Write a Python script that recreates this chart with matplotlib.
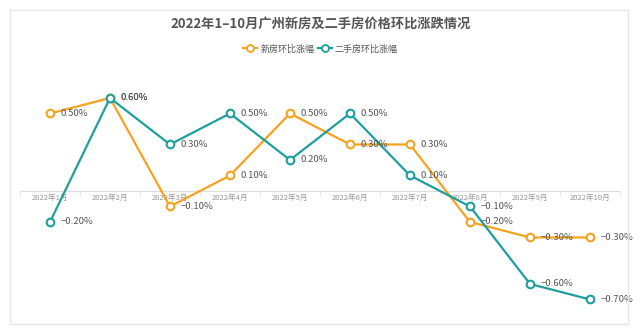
import matplotlib.pyplot as plt
from matplotlib.patches import Rectangle
from matplotlib.lines import Line2D

plt.rcParams['font.family'] = ['Noto Sans CJK SC', 'DejaVu Sans']

# data
months = ["2022年1月", "2022年2月", "2022年3月", "2022年4月", "2022年5月",
          "2022年6月", "2022年7月", "2022年8月", "2022年9月", "2022年10月"]
new_home = [0.5, 0.6, -0.1, 0.1, 0.5, 0.3, 0.3, -0.2, -0.3, -0.3]
second_hand = [-0.2, 0.6, 0.3, 0.5, 0.2, 0.5, 0.1, -0.1, -0.6, -0.7]

orange = "#F5A31F"
teal = "#1E9E9E"

fig = plt.figure(figsize=(6.41, 3.31), dpi=100)
fig.patch.set_facecolor("white")

# card border
fig.patches.append(Rectangle((10 / 641, 7 / 331), 618 / 641, 314 / 331,
                             transform=fig.transFigure, fill=False,
                             edgecolor="#e6e6e6", linewidth=1))

ax = fig.add_axes([20 / 641, 21 / 331, 600 / 641, 230 / 331])
ax.set_xlim(-0.5, 9.5)
ax.set_ylim(-0.768, 0.716)

x = list(range(len(months)))
ax.plot(x, new_home, color=orange, lw=1.6, marker="o", ms=5.5,
        mfc="white", mec=orange, mew=1.5, zorder=3)
ax.plot(x, second_hand, color=teal, lw=1.6, marker="o", ms=5.5,
        mfc="white", mec=teal, mew=1.5, zorder=3)

for series in (new_home, second_hand):
    for xi, v in zip(x, series):
        ax.annotate(f"{v:.2f}%".replace("-", "\u2212"), (xi, v), xytext=(7.5, 0),
                    textcoords="offset points", va="center", ha="left",
                    fontsize=6.8, color="#555555", zorder=4)

for s in ["top", "right", "left"]:
    ax.spines[s].set_visible(False)
ax.spines["bottom"].set_position(("data", 0))
ax.spines["bottom"].set_color("#dddddd")
ax.set_yticks([])
ax.set_xticks(x)
ax.set_xticklabels(months, fontsize=5.5, color="#999999")
ax.tick_params(axis="x", which="major", length=0, pad=2)
ax.set_xticks([i + 0.5 for i in range(-1, 10)], minor=True)
ax.tick_params(axis="x", which="minor", length=3, color="#dddddd")
for lbl in ax.get_xticklabels():
    lbl.set_zorder(1)

fig.text(0.5, 1 - 24 / 331, "2022年1–10月广州新房及二手房价格环比涨跌情况",
         ha="center", va="center", fontsize=9.5, color="#555555", fontweight="bold")

handles = [
    Line2D([], [], color=orange, lw=1.6, marker="o", ms=5, mfc="white", mec=orange, mew=1.3),
    Line2D([], [], color=teal, lw=1.6, marker="o", ms=5, mfc="white", mec=teal, mew=1.3),
]
fig.legend(handles, ["新房环比涨幅", "二手房环比涨幅"], loc="center",
           bbox_to_anchor=(0.5, 1 - 49 / 331), ncol=2, frameon=False,
           fontsize=6.5, handlelength=1.6, handletextpad=0.3, columnspacing=0.4,
           labelcolor="#555555")

fig.savefig("out.png", dpi=100)
